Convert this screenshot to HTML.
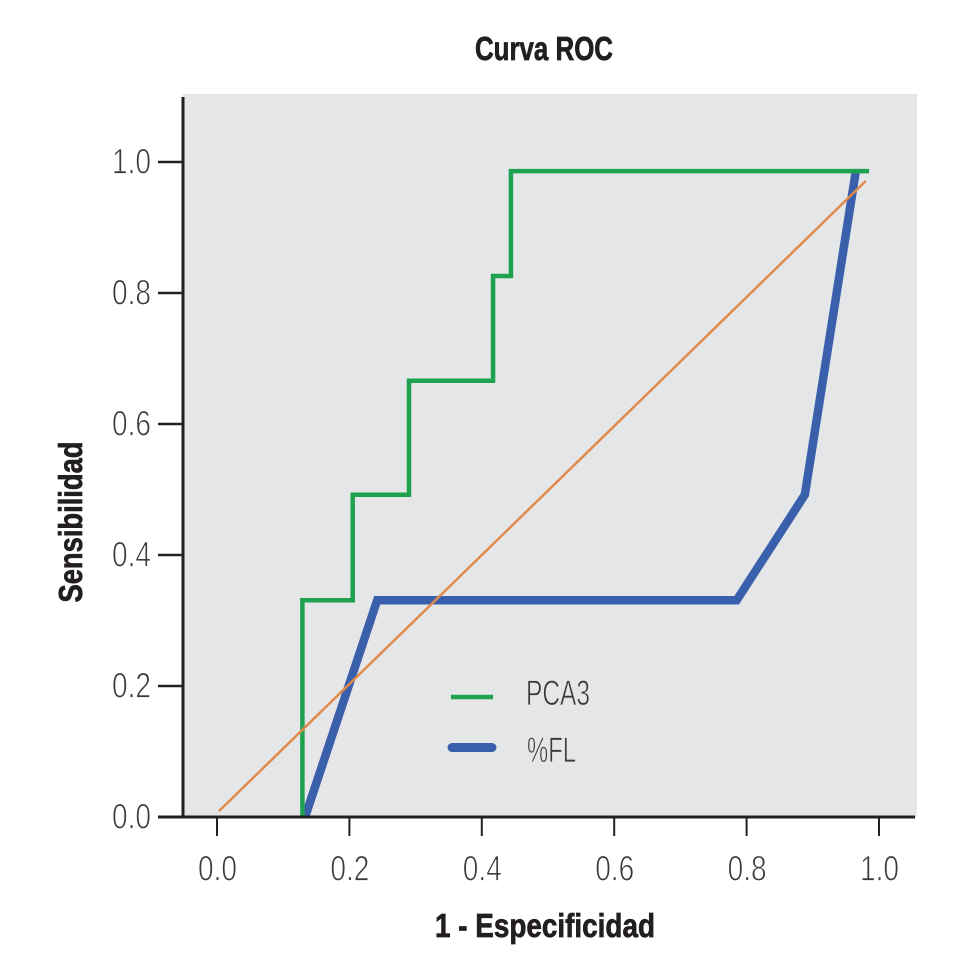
<!DOCTYPE html>
<html lang="es">
<head>
<meta charset="utf-8">
<title>Curva ROC</title>
<style>
html,body{margin:0;padding:0;background:#fff;}
#chart{display:block;width:958px;height:970px;}
.tick-label{font-family:"Liberation Sans",sans-serif;font-size:35px;font-weight:400;fill:#3a3a3a;stroke:#fff;stroke-width:.85px;}
.legend-label{font-family:"Liberation Sans",sans-serif;font-size:35px;fill:#3a3a3a;stroke:#e5e6e8;stroke-width:.7px;}
.axis-title{font-family:"Liberation Sans",sans-serif;font-size:33px;font-weight:700;fill:#231f20;stroke:#231f20;stroke-width:.7px;}
</style>
</head>
<body>
<svg id="chart" xmlns="http://www.w3.org/2000/svg" width="958" height="970" viewBox="0 0 958 970">
  <rect x="0" y="0" width="958" height="970" fill="#ffffff"/>
  <rect x="183" y="94" width="734" height="723" fill="#e5e6e8"/>
  <g id="marks"></g>
  <g id="axes"></g>
  <text class="axis-title" x="544" y="60" text-anchor="middle" textLength="138" lengthAdjust="spacingAndGlyphs">Curva ROC</text>
  <text class="axis-title" x="545" y="937" text-anchor="middle" textLength="220" lengthAdjust="spacingAndGlyphs">1 - Especificidad</text>
  <text class="axis-title" transform="translate(82,522) rotate(-90)" text-anchor="middle" textLength="161" lengthAdjust="spacingAndGlyphs">Sensibilidad</text>
  <g>
    <line x1="451" y1="697" x2="493" y2="697" stroke="#1ea24f" stroke-width="4.5"/>
    <text class="legend-label" x="526" y="705" textLength="64" lengthAdjust="spacingAndGlyphs">PCA3</text>
    <line x1="452" y1="747.5" x2="492" y2="747.5" stroke="#3a60ab" stroke-width="9" stroke-linecap="round"/>
    <text class="legend-label" x="527" y="762" textLength="49" lengthAdjust="spacingAndGlyphs">%FL</text>
  </g>
</svg>
<script>
const xTickValues = [0.0, 0.2, 0.4, 0.6, 0.8, 1.0];
const yTickValues = [0.0, 0.2, 0.4, 0.6, 0.8, 1.0];
const pca3X = [0.129, 0.129, 0.205, 0.205, 0.290, 0.290, 0.417, 0.417, 0.444, 0.444, 0.985];
const pca3Y = [0.000, 0.331, 0.331, 0.492, 0.492, 0.666, 0.666, 0.826, 0.826, 0.986, 0.986];
const flX = [0.133, 0.242, 0.785, 0.888, 0.965];
const flY = [0.000, 0.331, 0.331, 0.492, 0.986];
const refX = [0.003, 0.980];
const refY = [0.009, 0.971];

function xScale(v) { return 217 + v * 662; }
function yScale(v) { return 817 - v * 655; }
const NS = 'http://www.w3.org/2000/svg';
const marks = document.getElementById('marks');
const axes = document.getElementById('axes');

function pointsOf(xs, ys) {
  return xs.map(function (x, i) { return xScale(x) + ',' + yScale(ys[i]); }).join(' ');
}
function makeLine(x1, y1, x2, y2, w) {
  const l = document.createElementNS(NS, 'line');
  l.setAttribute('x1', x1);
  l.setAttribute('y1', y1);
  l.setAttribute('x2', x2);
  l.setAttribute('y2', y2);
  l.setAttribute('stroke', '#231f20');
  l.setAttribute('stroke-width', w);
  return l;
}
function makeSeries(xs, ys, color, width) {
  const p = document.createElementNS(NS, 'polyline');
  p.setAttribute('points', pointsOf(xs, ys));
  p.setAttribute('fill', 'none');
  p.setAttribute('stroke', color);
  p.setAttribute('stroke-width', width);
  p.setAttribute('stroke-linejoin', 'miter');
  return p;
}

const flLine = makeSeries(flX, flY, '#3a60ab', 8.5);


marks.appendChild(flLine);

const pcaLine = makeSeries(pca3X, pca3Y, '#1ea24f', 4.5);


marks.appendChild(pcaLine);

const refLine = makeSeries(refX, refY, '#e08a4c', 2.5);


marks.appendChild(refLine);

const xAxisLine = makeLine(158, 817, 915, 817, 3);


axes.appendChild(xAxisLine);

const yAxisLine = makeLine(183, 97, 183, 818, 3);


axes.appendChild(yAxisLine);

xTickValues.forEach(function (v) {
  const px = xScale(v);
  const t = makeLine(px, 817, px, 836, 2);
  
  
  axes.appendChild(t);
  const s = document.createElementNS(NS, 'text');
  
  
  s.setAttribute('class', 'tick-label');
  s.setAttribute('x', px + 0.5);
  s.setAttribute('y', 880.5);
  s.setAttribute('text-anchor', 'middle');
  s.setAttribute('textLength', '39');
  s.setAttribute('lengthAdjust', 'spacingAndGlyphs');
  s.textContent = v.toFixed(1);
  axes.appendChild(s);
});

yTickValues.forEach(function (v) {
  const py = yScale(v);
  const t = makeLine(158, py, 183, py, 2.5);
  
  
  axes.appendChild(t);
  const s = document.createElementNS(NS, 'text');
  
  
  s.setAttribute('class', 'tick-label');
  s.setAttribute('x', 151);
  s.setAttribute('y', py + 11.5);
  s.setAttribute('text-anchor', 'end');
  s.setAttribute('textLength', '39');
  s.setAttribute('lengthAdjust', 'spacingAndGlyphs');
  s.textContent = v.toFixed(1);
  axes.appendChild(s);
});
</script>
</body>
</html>
